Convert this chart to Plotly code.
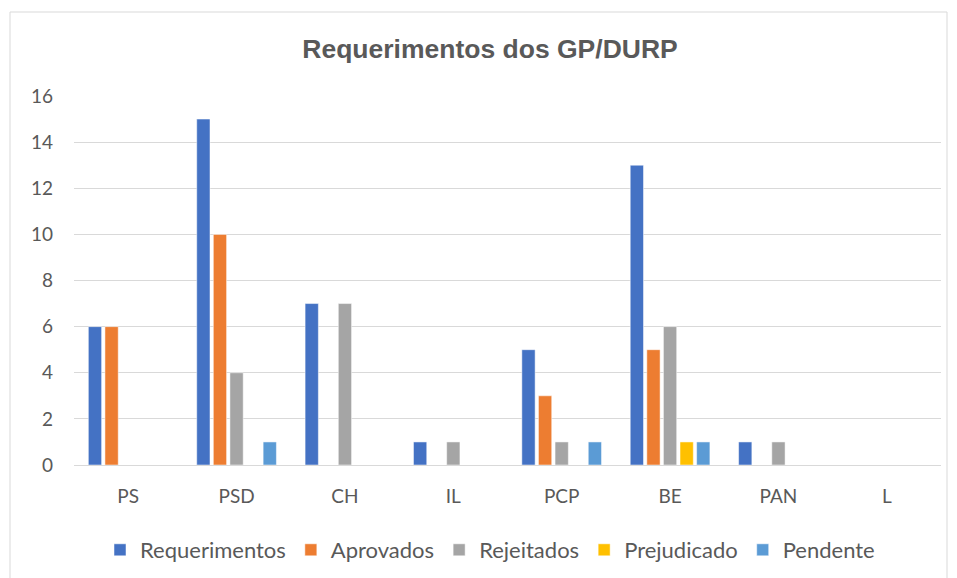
import plotly.graph_objects as go

categories = ["PS", "PSD", "CH", "IL", "PCP", "BE", "PAN", "L"]
requerimentos = [6, 15, 7, 1, 5, 13, 1, 0]
aprovados = [6, 10, 0, 0, 3, 5, 0, 0]
rejeitados = [0, 4, 7, 1, 1, 6, 1, 0]
prejudicado = [0, 0, 0, 0, 0, 1, 0, 0]
pendente = [0, 1, 0, 0, 1, 1, 0, 0]

series = [
    ("Requerimentos", requerimentos, "#4472C4"),
    ("Aprovados", aprovados, "#ED7D31"),
    ("Rejeitados", rejeitados, "#A5A5A5"),
    ("Prejudicado", prejudicado, "#FFC000"),
    ("Pendente", pendente, "#5B9BD5"),
]

fig = go.Figure()
for name, vals, color in series:
    fig.add_trace(go.Bar(
        x=categories, y=vals, name=name,
        marker=dict(color=color, line=dict(color="white", width=0.5)),
    ))

W, H = 949, 570  # page body has an 8px margin
font_fam = "Lato, Open Sans, sans-serif"
fig.update_layout(
    width=W, height=H,
    paper_bgcolor="white", plot_bgcolor="white",
    margin=dict(l=66, r=16, t=88, b=113, autoexpand=False),
    barmode="group", bargap=0.234, bargroupgap=0.2,
    title=dict(text="<b>Requerimentos dos GP/DURP</b>", x=(490 - 8) / W, xanchor="center",
               y=1 - 41 / H, yanchor="middle",
               font=dict(family="Liberation Sans, Arial, sans-serif", size=26.5, color="#595959")),
    font=dict(family=font_fam, size=19, color="#595959"),
    legend=dict(orientation="h", x=(490 - 8) / W, xanchor="center", xref="container",
                y=1 - 542 / H, yanchor="middle", yref="container",
                font=dict(family=font_fam, size=22, color="#595959"),
                traceorder="normal"),
    showlegend=True,
)
fig.update_xaxes(showgrid=False, showline=False, ticks="", automargin=False,
                 ticklabelstandoff=18,
                 tickfont=dict(size=19, color="#595959"))
fig.update_yaxes(range=[0, 16], dtick=2, showgrid=True, gridcolor="#D9D9D9", gridwidth=1,
                 zeroline=True, zerolinecolor="#D9D9D9", zerolinewidth=1, automargin=False,
                 showline=False, ticks="", ticklabelstandoff=20,
                 tickfont=dict(size=19, color="#595959"))

# chart border
fig.add_shape(type="rect", xref="paper", yref="paper",
              x0=(10 - 74) / 867, x1=(947 - 74) / 867,
              y0=-0.5, y1=(465 - 12) / 369,
              line=dict(color="#D9D9D9", width=1), fillcolor="rgba(0,0,0,0)", layer="below")

fig.write_html("out.html")
